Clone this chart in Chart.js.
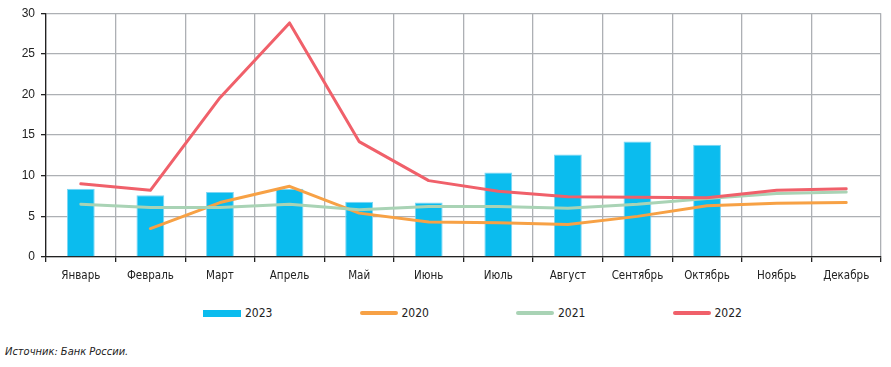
<!DOCTYPE html>
<html><head><meta charset="utf-8">
<script src="https://cdn.jsdelivr.net/npm/chart.js@4/dist/chart.umd.min.js"></script>
<style>
html,body{margin:0;padding:0;background:#fff;width:891px;height:367px;overflow:hidden;}
#c{position:absolute;left:0;top:0;}
#legend{position:absolute;top:305px;left:0;width:891px;height:16px;font-family:'DejaVu Sans',sans-serif;font-size:12px;font-stretch:condensed;color:#222;}
.item{position:absolute;top:0;display:flex;align-items:center;height:16px;white-space:nowrap;}
.sw{width:38px;margin-right:4px;}
#src{position:absolute;left:5px;top:345px;font-family:'DejaVu Sans',sans-serif;font-style:italic;font-size:11px;font-stretch:condensed;color:#222;}
</style></head>
<body>
<canvas id="c" width="891" height="295"></canvas>
<div id="legend"></div>
<div id="src">Источник: Банк России.</div>
<script>
const months = ['Январь','Февраль','Март','Апрель','Май','Июнь','Июль','Август','Сентябрь','Октябрь','Ноябрь','Декабрь'];
const y2023 = [8.4,7.6,8.0,8.4,6.8,6.7,10.4,12.6,14.2,13.8,null,null];
const y2020 = [null,3.5,6.7,8.7,5.4,4.3,4.2,4.0,5.0,6.3,6.6,6.7];
const y2021 = [6.5,6.1,6.1,6.5,5.8,6.2,6.2,6.0,6.5,7.2,7.8,8.0];
const y2022 = [9.0,8.2,19.6,28.8,14.2,9.4,8.1,7.4,7.35,7.3,8.2,8.4];
const yTicks = [0,5,10,15,20,25,30];

const C23='#0BBCEE', C20='#F7A145', C21='#A9D3B5', C22='#F0606A';
const GRID='#ADB0B4', AX='#222';

const lineDs = (label, data, color, order) => ({
  type:'line', label, data, borderColor:color, backgroundColor:color,
  borderWidth:3, pointRadius:0, tension:0, order, fill:false,
  borderJoinStyle:'round', borderCapStyle:'round'
});

const chart = new Chart(document.getElementById('c'), {
  type:'bar',
  data:{
    labels: months,
    datasets:[
      {type:'bar', label:'2023', data:y2023, backgroundColor:C23, borderColor:'#7DD6F4', borderWidth:1,
       barPercentage:0.8, categoryPercentage:0.5, order:5},
      lineDs('2020', y2020, C20, 3),
      lineDs('2021', y2021, C21, 2),
      lineDs('2022', y2022, C22, 1)
    ]
  },
  options:{
    responsive:false, animation:false,
    layout:{padding:{top:12,right:10,left:0,bottom:0}},
    plugins:{legend:{display:false}, tooltip:{enabled:false}},
    scales:{
      x:{
        offset:true,
        grid:{color:GRID, tickColor:AX, tickLength:5, offset:true, lineWidth:1.3},
        border:{color:AX, width:1.3},
        ticks:{color:AX, font:{family:"'DejaVu Sans',sans-serif", size:11.5, weight:'normal condensed'}, padding:7, maxRotation:0, autoSkip:false},
        afterFit:(s)=>{ s.height = 38; }
      },
      y:{
        min:0, max:30,
        afterBuildTicks:(s)=>{ s.ticks = yTicks.map(v=>({value:v})); },
        grid:{color:GRID, tickColor:AX, tickLength:5, lineWidth:1.3},
        border:{color:AX, width:1.3},
        ticks:{color:AX, font:{family:"'Liberation Sans',Arial,sans-serif", size:12}, padding:6},
        afterFit:(s)=>{ s.width = 46; }
      }
    }
  }
});

// HTML legend built from the chart's datasets
const legend = document.getElementById('legend');
[0,1,2,3].forEach((di, i) => {
  const ds = chart.data.datasets[di];
  const it = document.createElement('div');
  it.className = 'item';
  it.style.left = (203 + i*156.5) + 'px';
  const sw = document.createElement('span');
  sw.className = 'sw';
  sw.style.background = ds.type === 'bar' ? ds.backgroundColor : ds.borderColor;
  if (ds.type === 'bar') { sw.style.height = '7px'; }
  else { sw.style.height = '4px'; sw.style.borderRadius = '2px'; }
  const tx = document.createElement('span');
  tx.textContent = ds.label;
  it.appendChild(sw); it.appendChild(tx);
  legend.appendChild(it);
});
</script>
</body></html>
